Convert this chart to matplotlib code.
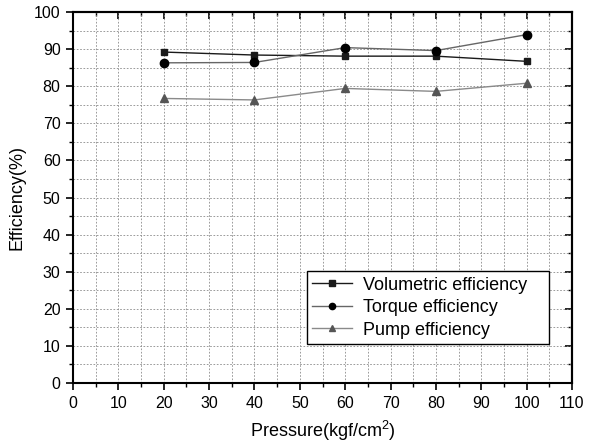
import matplotlib
matplotlib.use("Agg")
import matplotlib.pyplot as plt
from matplotlib.ticker import MultipleLocator

plt.rcParams["font.family"] = ["Liberation Sans", "DejaVu Sans"]
plt.rcParams["mathtext.fontset"] = "custom"
plt.rcParams["mathtext.rm"] = "Liberation Sans"

pressure = [20, 40, 60, 80, 100]
volumetric = [89.2, 88.4, 88.1, 88.1, 86.7]
torque = [86.3, 86.4, 90.4, 89.6, 93.9]
pump = [76.7, 76.3, 79.4, 78.6, 80.8]

fig = plt.figure(figsize=(5.93, 4.46), dpi=100)
ax = fig.add_axes([73 / 593, 1 - 383 / 446, (572 - 73) / 593, (383 - 12) / 446])

ax.plot(pressure, volumetric, color="#1a1a1a", lw=1, marker="s", ms=5,
        label="Volumetric efficiency")
ax.plot(pressure, torque, color="#666666", lw=1, marker="o", ms=6,
        mfc="black", mec="black", label="Torque efficiency")
ax.plot(pressure, pump, color="#8a8a8a", lw=1, marker="^", ms=6,
        mfc="#555555", mec="#555555", label="Pump efficiency")

ax.set_xlim(0, 110)
ax.set_ylim(0, 100)
ax.xaxis.set_major_locator(MultipleLocator(10))
ax.xaxis.set_minor_locator(MultipleLocator(5))
ax.yaxis.set_major_locator(MultipleLocator(10))
ax.yaxis.set_minor_locator(MultipleLocator(5))
ax.grid(True, which="both", ls=(0, (2, 2)), color="#8a8a8a", lw=0.6)
ax.tick_params(which="both", direction="out", labelsize=11.5)
ax.tick_params(which="major", length=5, width=1.2, pad=4)
ax.tick_params(which="minor", length=3, width=1)
# inward ticks on top and right, as in the original
ax2 = ax.secondary_xaxis("top")
ax2.xaxis.set_major_locator(MultipleLocator(10))
ax2.xaxis.set_minor_locator(MultipleLocator(5))
ax2.tick_params(which="both", direction="in", labeltop=False)
ax2.tick_params(which="major", length=5, width=1.2)
ax2.tick_params(which="minor", length=3, width=1)
ay2 = ax.secondary_yaxis("right")
ay2.yaxis.set_major_locator(MultipleLocator(10))
ay2.yaxis.set_minor_locator(MultipleLocator(5))
ay2.tick_params(which="both", direction="in", labelright=False)
ay2.tick_params(which="major", length=5, width=1.2)
ay2.tick_params(which="minor", length=3, width=1)
for s in list(ax.spines.values()) + [ax2.spines["top"], ay2.spines["right"]]:
    s.set_linewidth(1.5)

ax.set_xlabel("Pressure(kgf/cm$^2$)", fontsize=13, labelpad=6)
ax.set_ylabel("Efficiency(%)", fontsize=13, labelpad=6)

# legend box spans px 307..549 horizontally; expand mode leaves right padding
ax.legend(loc="lower left",
          bbox_to_anchor=((307 - 73) / 499, (383 - 344) / 371, (549 - 307) / 499, 0.1),
          mode="expand",
          fontsize=13, frameon=True, fancybox=False, edgecolor="black",
          framealpha=1, handlelength=2.2, markerscale=0.75, borderpad=0.3,
          labelspacing=0.3, handletextpad=0.6, borderaxespad=0)

fig.savefig("out.png", dpi=100)
